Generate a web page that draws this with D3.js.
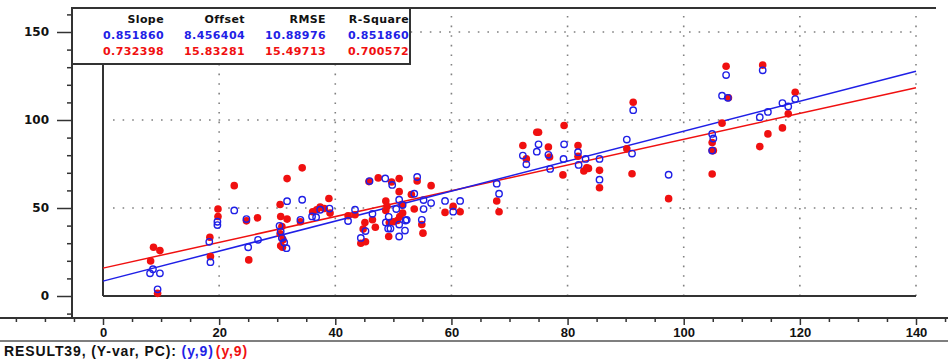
<!DOCTYPE html>
<html>
<head>
<meta charset="utf-8">
<script src="https://cdn.jsdelivr.net/npm/d3@7"></script>
<style>
  html, body { margin: 0; padding: 0; background: #fff; }
  svg { display: block; }
  .tick text { font-family: "Liberation Sans Narrow", "Arial Narrow", "Liberation Sans", Arial, sans-serif; font-weight: bold; font-size: 13px; fill: #111; }
</style>
</head>
<body>
<svg id="chart" width="948" height="361"></svg>
<script>
// ---- data ----
const xTicks = [0, 20, 40, 60, 80, 100, 120, 140];
const yTicks = [0, 50, 100, 150];
const tableHeaders = ["Slope", "Offset", "RMSE", "R-Square"];
const blueStats = ["0.851860", "8.456404", "10.88976", "0.851860"];
const redStats  = ["0.732398", "15.83281", "15.49713", "0.700572"];
const blueFit = { slope: 0.851860, offset: 8.456404 };
const redFit  = { slope: 0.732398, offset: 15.83281 };
const footerLabel = "RESULT39, (Y-var, PC): ";
const footerBlue = "(y,9)";
const footerRed = "(y,9)";

const bluePoints = [
  [8.6,15.2],[8.1,12.9],[9.8,12.9],[9.4,3.8],[19.7,42.2],[19.7,40.3],[18.3,30.8],[18.5,19.2],
  [22.6,48.6],[24.7,43.7],[25.0,27.7],[26.7,31.9],[31.7,53.9],[34.3,54.7],[30.4,39.9],[30.6,36.6],
  [30.8,32.9],[31.2,30.4],[31.6,27.2],[34.0,43.3],[36.0,45.2],[36.7,44.8],[37.4,49.0],[39.0,49.7],
  [42.2,42.6],[43.4,49.0],[45.9,65.3],[48.6,66.8],[49.8,63.1],[54.1,67.6],[53.6,58.1],[46.4,46.7],
  [45.2,36.9],[44.4,33.0],[48.7,41.8],[49.1,38.3],[49.5,38.3],[51.0,33.8],[50.5,49.4],[51.0,54.7],
  [51.6,51.7],[52.1,42.9],[52.3,43.3],[52.0,37.2],[51.0,40.6],[55.2,49.4],[54.9,43.3],[56.5,52.8],
  [58.9,54.0],[60.3,47.9],[61.5,54.0],[55.2,54.5],[49.2,45.0],[67.8,63.8],[68.2,58.1],[72.3,79.8],
  [72.9,74.8],[74.7,82.0],[75.0,86.2],[76.7,80.2],[77.0,72.2],[79.3,77.9],[79.4,86.2],[81.8,81.7],
  [81.9,74.5],[83.1,77.9],[85.5,77.9],[85.5,66.1],[90.2,88.9],[91.1,80.9],[91.3,105.6],[97.4,68.9],
  [104.9,92.1],[105.1,89.5],[104.9,82.6],[106.6,113.8],[107.3,125.5],[107.6,112.6],[113.1,101.6],
  [113.6,128.2],[114.5,104.6],[117.0,109.6],[118.0,107.7],[119.2,111.9]
];
const redPoints = [
  [8.7,27.7],[9.8,25.8],[8.2,19.9],[9.4,1.5],[19.8,49.4],[19.8,45.2],[18.4,33.4],[18.5,22.4],
  [22.6,62.7],[24.7,42.7],[26.6,44.4],[25.1,20.5],[31.7,66.7],[34.3,72.8],[30.5,52.0],[30.6,45.2],
  [31.7,43.7],[30.8,39.5],[30.5,35.3],[31.0,31.9],[30.6,28.5],[30.9,27.7],[34.0,42.2],[38.9,55.4],
  [39.1,47.1],[36.1,47.9],[36.8,49.0],[37.4,50.5],[38.1,49.7],[42.2,45.6],[43.4,46.2],[45.8,65.0],
  [47.4,67.1],[49.7,64.8],[51.0,66.7],[51.0,59.3],[54.1,65.3],[53.1,57.7],[56.5,62.7],[48.7,54.0],
  [48.9,50.9],[51.5,52.0],[53.6,49.4],[45.1,41.8],[46.4,43.3],[46.9,39.1],[44.8,38.0],[44.4,30.0],
  [45.2,30.8],[49.2,33.8],[49.3,41.8],[50.0,42.2],[50.7,42.9],[51.1,45.2],[51.6,47.1],[48.7,48.6],
  [54.9,40.6],[55.1,35.7],[58.9,47.5],[60.3,50.9],[61.5,47.9],[67.8,54.0],[68.2,47.9],[72.3,85.5],
  [72.9,77.9],[74.7,93.0],[75.0,93.0],[76.7,84.7],[76.9,79.0],[79.4,96.9],[79.2,68.8],[81.8,85.5],
  [81.8,79.4],[82.8,71.0],[83.3,72.9],[83.6,72.5],[85.5,71.4],[85.5,61.5],[90.2,83.6],[91.1,69.5],
  [91.3,110.1],[97.4,55.3],[104.9,69.3],[104.9,82.6],[105.1,82.6],[104.9,87.2],[106.6,98.2],
  [107.3,130.5],[107.7,112.6],[113.1,84.9],[113.6,131.2],[114.5,92.1],[117.0,95.5],[118.0,103.5],
  [119.2,115.7]
];

// ---- layout ----
const W = 948, H = 361;
const BLUE = "#1f1fe6", RED = "#f01010";
const svg = d3.select("#chart");
const x = d3.scaleLinear().domain([0, 140]).range([103, 916]);
const y = d3.scaleLinear().domain([0, 150]).range([296, 32]);
const frameLeft = 72, frameTop = 8, axisY = 318;
const yMax = y.invert(frameTop);
const xMax = x.invert(W);

// dotted grid
const grid = svg.append("g").attr("stroke", "#808080").attr("stroke-width", 1.6)
  .attr("stroke-dasharray", "1.6,8").attr("stroke-linecap", "butt");
grid.selectAll("line.v").data(xTicks.filter(d => d > 0)).join("line")
  .attr("x1", d => x(d)).attr("x2", d => x(d))
  .attr("y1", y(0)).attr("y2", frameTop + 4);
grid.selectAll("line.h").data(yTicks.filter(d => d > 0)).join("line")
  .attr("y1", d => y(d)).attr("y2", d => y(d))
  .attr("x1", x(0) + 10).attr("x2", x(140));

// inner axes (x=0, y=0)
svg.append("line").attr("x1", x(0)).attr("x2", x(0)).attr("y1", frameTop).attr("y2", y(0))
  .attr("stroke", "#333").attr("stroke-width", 2);
svg.append("line").attr("x1", x(0)).attr("x2", x(140)).attr("y1", y(0)).attr("y2", y(0))
  .attr("stroke", "#333").attr("stroke-width", 2);

// fit lines
const line = d3.line().x(d => x(d[0])).y(d => y(d[1]));
[[redFit, RED], [blueFit, BLUE]].forEach(([f, c]) => {
  svg.append("path")
    .attr("d", line([0, 140].map(v => [v, f.offset + f.slope * v])))
    .attr("fill", "none").attr("stroke", c).attr("stroke-width", 1.5);
});

// points
svg.append("g").selectAll("circle").data(redPoints).join("circle")
  .attr("cx", d => x(d[0])).attr("cy", d => y(d[1])).attr("r", 3.8)
  .attr("fill", RED);
svg.append("g").selectAll("circle").data(bluePoints).join("circle")
  .attr("cx", d => x(d[0])).attr("cy", d => y(d[1])).attr("r", 3.2)
  .attr("fill", "none").attr("stroke", BLUE).attr("stroke-width", 1.4);

// outer frame
svg.append("line").attr("x1", frameLeft).attr("x2", 936).attr("y1", frameTop).attr("y2", frameTop)
  .attr("stroke", "#333").attr("stroke-width", 2);
svg.append("line").attr("x1", frameLeft).attr("x2", frameLeft).attr("y1", frameTop).attr("y2", axisY)
  .attr("stroke", "#333").attr("stroke-width", 2);

// y axis (left)
const yAxis = svg.append("g").attr("transform", `translate(${frameLeft},0)`)
  .call(d3.axisLeft(y).tickValues(yTicks).tickSize(15).tickPadding(8).tickFormat(d3.format("d")));
yAxis.select(".domain").remove();
yAxis.selectAll(".tick line").attr("stroke", "#333").attr("stroke-width", 1.5);
yAxis.selectAll(".tick text").style("font-family", "'DejaVu Sans', Verdana, sans-serif").style("font-size", "12px");
const yMinor = d3.range(-10, yMax, 10).filter(v => v % 50 !== 0);
const yAxisMinor = svg.append("g").attr("transform", `translate(${frameLeft},0)`)
  .call(d3.axisLeft(y).tickValues(yMinor).tickSize(5).tickFormat(""));
yAxisMinor.select(".domain").remove();
yAxisMinor.selectAll(".tick line").attr("stroke", "#333").attr("stroke-width", 1.5);

// x axis (bottom)
svg.append("line").attr("x1", 0).attr("x2", W).attr("y1", axisY).attr("y2", axisY)
  .attr("stroke", "#333").attr("stroke-width", 2);
const xAxis = svg.append("g").attr("transform", `translate(0,${axisY})`)
  .call(d3.axisBottom(x).tickValues(xTicks).tickSize(7).tickPadding(3).tickFormat(d3.format("d")));
xAxis.select(".domain").remove();
xAxis.selectAll(".tick line").attr("stroke", "#333").attr("stroke-width", 1.5);
const xMinor = d3.range(-15, xMax, 5).filter(v => v % 20 !== 0);
const xAxisMinor = svg.append("g").attr("transform", `translate(0,${axisY})`)
  .call(d3.axisBottom(x).tickValues(xMinor).tickSize(4).tickFormat(""));
xAxisMinor.select(".domain").remove();
xAxisMinor.selectAll(".tick line").attr("stroke", "#333").attr("stroke-width", 1.5);

// footer
svg.append("line").attr("x1", 0).attr("x2", W).attr("y1", 341).attr("y2", 341)
  .attr("stroke", "#555").attr("stroke-width", 1.5);
const ft = svg.append("text").attr("x", 4).attr("y", 356)
  .attr("font-family", "'Liberation Sans', Arial, sans-serif").attr("font-weight", "bold")
  .attr("font-size", 14).attr("letter-spacing", 0.9).attr("fill", "#111");
ft.append("tspan").text(footerLabel);
ft.append("tspan").attr("fill", BLUE).text(footerBlue);
ft.append("tspan").attr("fill", RED).attr("dx", 2).text(footerRed);

// stats table
const legend = svg.append("g");
legend.append("rect").attr("x", frameLeft).attr("y", frameTop).attr("width", 338).attr("height", 56)
  .attr("fill", "#fff").attr("stroke", "#333").attr("stroke-width", 2);
const colRight = [164, 245, 326, 409];
const rows = [[tableHeaders, "#111", 23], [blueStats, BLUE, 39], [redStats, RED, 55]];
rows.forEach(([vals, col, yy]) => {
  legend.selectAll(null).data(vals).join("text")
    .attr("x", (d, i) => colRight[i]).attr("y", yy)
    .attr("text-anchor", "end")
    .attr("font-family", "'DejaVu Sans', Verdana, sans-serif").attr("font-weight", "bold")
    .attr("font-size", 11).attr("letter-spacing", 0.4)
    .attr("fill", col).text(d => d);
});
</script>
</body>
</html>
